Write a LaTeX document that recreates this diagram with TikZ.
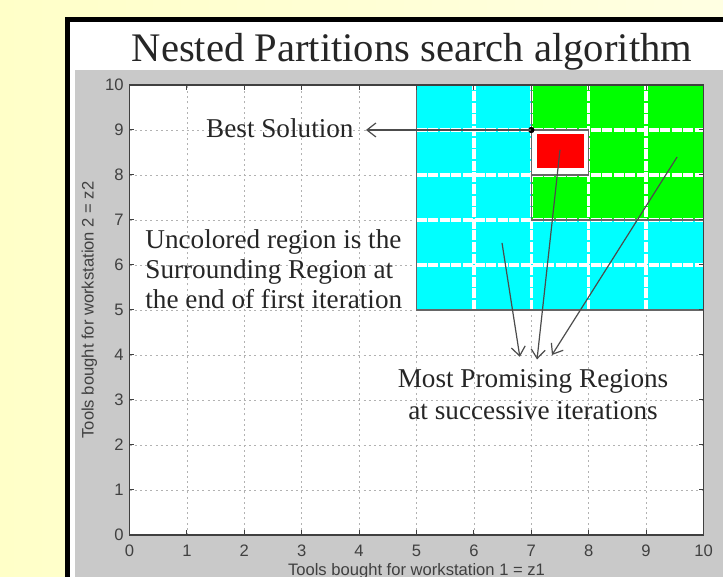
\documentclass[tikz,border=0pt]{standalone}
\usepackage{fontspec}
\setmainfont{Liberation Serif}
\setsansfont{Liberation Sans}
\usetikzlibrary{arrows.meta,calc}
\definecolor{slideyel}{HTML}{FFFFC8}
\definecolor{slideyeltwo}{HTML}{FFFFE2}
\definecolor{figgray}{HTML}{C9C9C9}
\definecolor{axdark}{HTML}{404040}
\definecolor{npcyan}{HTML}{00FFFF}
\definecolor{npgreen}{HTML}{00FF00}
\definecolor{npred}{HTML}{FF0000}
\tikzset{
  gridln/.style={gray!60, line width=0.4pt, dash pattern=on 1pt off 1.6pt},
  cellgap/.style={white, line width=1.7pt, dash pattern=on 5pt off 0.8pt},
  regbox/.style={draw=black!60, line width=0.6pt},
  tickl/.style={font=\sffamily\fontsize{8.3}{10}\selectfont, text=black!75, inner sep=1pt},
  axlab/.style={font=\sffamily\fontsize{8.3}{10}\selectfont, text=black!75, inner sep=0pt},
  note/.style={font=\fontsize{13.6}{15}\selectfont, text=black!85, inner sep=0pt},
  pointer/.style={-{Straight Barb[length=4.5pt, width=7pt]}, line width=0.6pt, draw=black!70},
}
\begin{document}
\begin{tikzpicture}[x=1pt, y=1pt]
  \useasboundingbox (0,0) rectangle (361.5,288.5);
  % slide background
  \shade[left color=slideyel, right color=slideyeltwo] (0,0) rectangle (361.5,288.5);
  % figure window
  \fill[white] (33.75,-5) rectangle (370,278.75);
  \draw[line width=2.5pt] (33.75,-5) |- (370,278.75);
  \fill[figgray] (37.5,-5) rectangle (370,253.5);
  \node[font=\fontsize{20.3}{24}\selectfont, anchor=base, text=black!85] (title) at (206,257.5)
    {Nested Partitions search algorithm};
  % axes, in data units
  \begin{scope}[shift={(64.75,21)}, x=28.7pt, y=22.5pt]
    \fill[white] (0,0) rectangle (10,10);
    \foreach \k in {1,...,9} {
      \draw[gridln] (\k,0) -- (\k,10);
      \draw[gridln] (0,\k) -- (10,\k);
    }
    % partitions
    \fill[npcyan] (5,5) rectangle (10,10);
    \fill[npgreen] (7,7) rectangle (10,10);
    \fill[white] (7,8) rectangle (8,9);
    \fill[npred] (7.1,8.15) rectangle (7.92,8.9);
    \foreach \k in {6,...,9} {
      \draw[cellgap] (\k,5) -- (\k,10);
      \draw[cellgap] (5,\k) -- (10,\k);
    }
    \draw[regbox] (5,5) rectangle (10,10);
    \draw[regbox] (7,7) rectangle (10,10);
    \draw[regbox] (7,8) rectangle (8,9);
    % box, ticks and labels
    \draw[axdark, line width=0.8pt] (0,0) rectangle (10,10);
    \foreach \k in {0,...,10} {
      \draw[axdark, line width=0.5pt] (\k,0) -- ++(0,0.11) (\k,10) -- ++(0,-0.11)
        (0,\k) -- ++(0.087,0) (10,\k) -- ++(-0.087,0);
      \node[tickl, anchor=base] (xt\k) at (\k,-0.47) {\k};
      \node[tickl, anchor=east] (yt\k) at (-0.06,\k) {\k};
    }
    \node[axlab, anchor=base] (xlab) at (5,-0.89) {Tools bought for workstation 1 = z1};
    \node[axlab, rotate=90] (ylab) at (-0.7,5) {Tools bought for workstation 2 = z2};
    % annotations
    \coordinate (best) at (7,9);
    \fill[black] (best) circle (1.6pt);
    \node[note] (bestlab) at (2.62,9.05) {Best Solution};
    \draw[pointer, shorten >=6pt] (best) -- (best -| bestlab.east);
    \node[note, align=left, anchor=west] (surr) at (0.27,5.91)
      {Uncolored region is the\\Surrounding Region at\\the end of first iteration};
    \node[note, align=center, font=\fontsize{13.6}{16}\selectfont] (mpr) at (7.03,3.11)
      {Most Promising Regions\\at successive iterations};
    \coordinate (pr1) at (6.49,6.49);
    \coordinate (pr2) at (7.5,8.56);
    \coordinate (pr3) at (9.54,8.4);
    \coordinate (tip1) at (6.8,3.96);
    \coordinate (tip2) at (7.1,3.9);
    \coordinate (tip3) at (7.36,4.0);
    \foreach \i in {1,2,3}
      \draw[pointer] (pr\i) -- (tip\i);
  \end{scope}
\end{tikzpicture}
\end{document}
